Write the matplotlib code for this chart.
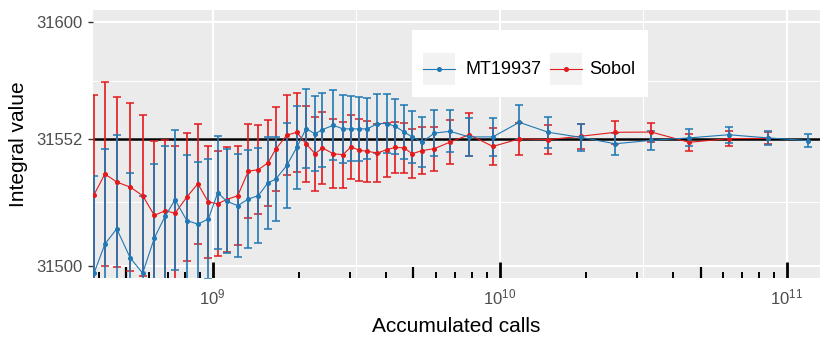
import math
import matplotlib
matplotlib.use("Agg")
import matplotlib.pyplot as plt
from matplotlib.ticker import FixedLocator, NullFormatter, FixedFormatter
from matplotlib.patches import Rectangle
from matplotlib.lines import Line2D

plt.rcParams['font.family'] = ['Liberation Sans', 'DejaVu Sans']
plt.rcParams['mathtext.fontset'] = 'custom'
plt.rcParams['mathtext.rm'] = 'Liberation Sans'
plt.rcParams['mathtext.it'] = 'Liberation Sans:italic'
plt.rcParams['mathtext.bf'] = 'Liberation Sans:bold'

# ---------------- data ----------------
series_names = ['MT19937', 'Sobol']
calls = [3.86e8, 4.21e8, 4.63e8, 5.16e8, 5.70e8, 6.26e8, 6.82e8, 7.39e8, 8.12e8, 8.87e8,
         9.65e8, 1.041e9, 1.119e9, 1.222e9, 1.33e9, 1.441e9, 1.555e9, 1.658e9, 1.81e9, 1.962e9,
         2.113e9, 2.272e9, 2.409e9, 2.631e9, 2.838e9, 3.032e9, 3.241e9, 3.456e9, 3.745e9, 4.04e9,
         4.316e9, 4.64e9, 4.95e9, 5.36e9, 5.92e9, 6.71e9, 7.83e9, 9.45e9, 1.168e10, 1.476e10,
         1.92e10, 2.52e10, 3.37e10, 4.56e10, 6.26e10, 8.58e10, 1.184e11]
mt_mean = [31497.0, 31508.9, 31515.2, 31503.2, 31497.0, 31511.4, 31520.3, 31527.1, 31518.6, 31517.1,
           31519.2, 31530.0, 31526.5, 31524.7, 31527.4, 31528.8, 31534.0, 31535.6, 31541.2, 31548.6,
           31556.3, 31554.2, 31555.9, 31557.7, 31556.2, 31556.2, 31556.2, 31556.2, 31558.4, 31558.4,
           31557.3, 31554.9, 31552.9, 31550.8, 31554.5, 31555.2, 31552.9, 31552.9, 31558.9, 31554.8,
           31552.7, 31550.1, 31551.5, 31552.5, 31553.8, 31552.5, 31551.4]
mt_err = [40.0, 39.0, 38.6, 34.9, 31.8, 30.4, 29.0, 28.8, 26.7, 25.4,
          24.6, 23.2, 21.3, 21.2, 20.0, 19.6, 18.7, 17.3, 17.6, 17.0,
          16.2, 15.4, 15.2, 14.4, 14.0, 13.3, 13.0, 12.5, 12.2, 12.0,
          11.3, 11.0, 10.7, 10.3, 9.5, 8.6, 7.7, 7.7, 7.0, 6.4,
          5.5, 4.6, 3.9, 3.5, 3.2, 2.8, 2.5]
sobol_calls = calls[:-1]
sobol_mean = [31529.2, 31537.7, 31534.4, 31532.3, 31528.8, 31520.7, 31522.6, 31521.6, 31528.2, 31533.7,
              31526.2, 31525.5, 31527.2, 31528.8, 31538.8, 31539.5, 31542.2, 31547.9, 31553.6, 31554.8,
              31550.1, 31546.0, 31548.4, 31546.0, 31545.6, 31548.8, 31547.4, 31547.0, 31546.3, 31547.7,
              31548.6, 31548.4, 31546.0, 31547.3, 31548.1, 31550.8, 31553.8, 31549.0, 31552.1, 31551.8,
              31553.2, 31554.8, 31554.9, 31550.7, 31552.2, 31552.3]
sobol_err = [40.8, 37.7, 35.0, 34.5, 33.0, 30.4, 28.9, 27.7, 26.2, 24.6,
             22.8, 21.6, 21.7, 20.3, 19.3, 18.4, 17.8, 17.2, 16.4, 16.1,
             15.6, 15.1, 14.8, 14.2, 13.6, 13.2, 12.7, 12.5, 12.1, 11.1,
             10.4, 10.4, 10.0, 9.6, 9.0, 8.9, 8.8, 7.7, 6.5, 5.8,
             5.2, 4.7, 3.9, 3.5, 3.0, 2.5]
reference_value = 31552
y_breaks = [31500, 31552, 31600]
y_minor_breaks = [31526, 31576]
x_breaks = [1e9, 1e10, 1e11]
x_labels = [r'$10^{9}$', r'$10^{10}$', r'$10^{11}$']
x_minor_breaks = [10 ** 9.5, 10 ** 10.5]
x_limits = [5e8, 1e11]
y_limits = [31500, 31600]

# ---------------- style ----------------
blue = '#1F78B4'
red = '#E31A1C'
W, H = 830, 346
fig = plt.figure(figsize=(W / 100, H / 100), dpi=100)
L, R, T, B = 93.3, 820.0, 10.0, 278.0
ax = fig.add_axes([L / W, 1 - B / H, (R - L) / W, (B - T) / H])
ax.set_facecolor('#EBEBEB')
for s in ax.spines.values():
    s.set_visible(False)

ax.set_xscale('log')
lx0, lx1 = math.log10(x_limits[0]), math.log10(x_limits[1])
ex = 0.05 * (lx1 - lx0)
ax.set_xlim(10 ** (lx0 - ex), 10 ** (lx1 + ex))
ey = 0.05 * (y_limits[1] - y_limits[0])
ax.set_ylim(y_limits[0] - ey, y_limits[1] + ey)

ax.xaxis.set_major_locator(FixedLocator(x_breaks))
ax.xaxis.set_major_formatter(FixedFormatter(x_labels))
ax.xaxis.set_minor_locator(FixedLocator(x_minor_breaks))
ax.xaxis.set_minor_formatter(NullFormatter())
ax.yaxis.set_major_locator(FixedLocator(y_breaks))
ax.yaxis.set_minor_locator(FixedLocator(y_minor_breaks))
ax.yaxis.set_major_formatter(FixedFormatter([str(v) for v in y_breaks]))

ax.grid(which='major', color='white', lw=1.5, zorder=0)
ax.grid(which='minor', color='white', lw=0.75, zorder=0)
ax.set_axisbelow(True)

ax.tick_params(axis='x', which='both', length=0, pad=7, labelsize=12, labelcolor='#4D4D4D')
ax.tick_params(axis='y', which='major', length=3.6, width=1.0, color='#333333', pad=4,
               labelsize=12, labelcolor='#4D4D4D')
ax.tick_params(axis='y', which='minor', length=0)

# reference line
ax.axhline(reference_value, color='black', lw=1.8, zorder=1)

# log ticks (annotation_logticks style)
xmin, xmax = ax.get_xlim()
axh_px = B - T
for k in range(8, 12):
    for m in range(1, 10):
        v = m * 10 ** k
        if xmin <= v <= xmax:
            if m == 1:
                ln, lw = 16, 2.0
            elif m == 5:
                ln, lw = 11, 1.6
            else:
                ln, lw = 6, 1.4
            ax.vlines(v, 0, ln / axh_px, transform=ax.get_xaxis_transform(),
                      color='black', lw=lw, zorder=1)

# series
def draw(x, y, e, c):
    ax.errorbar(x, y, yerr=e, fmt='o-', color=c, ms=2.6, lw=0.8,
                ecolor=matplotlib.colors.to_rgba(c, 0.92), elinewidth=1.3,
                capsize=2.6, capthick=1.2, zorder=3)

draw(sobol_calls, sobol_mean, sobol_err, red)
draw(calls, mt_mean, mt_err, blue)

# axis titles
fig.text((L + R) / 2 / W, 1 - 332 / H, 'Accumulated calls', ha='center', va='baseline',
         fontsize=15, color='black')
fig.text(19 / W, 1 - ((T + B) / 2) / H, 'Integral value', ha='center', va='center',
         rotation=90, fontsize=15, color='black')

# legend (ggplot-like, inside)
def fx(px):
    return px / W
def fy(py):
    return 1 - py / H

fig.patches.append(Rectangle((fx(412), fy(97)), (648 - 412) / W, (97 - 30) / H,
                             transform=fig.transFigure, facecolor='white', edgecolor='none',
                             zorder=5))
keys = [(423, 455, 465, blue), (550, 582, 589, red)]
for (k0, k1, tx, c), name in zip(keys, series_names):
    fig.patches.append(Rectangle((fx(k0), fy(85)), (k1 - k0) / W, 32 / H,
                                 transform=fig.transFigure, facecolor='#F2F2F2',
                                 edgecolor='none', zorder=6))
    fig.lines.append(Line2D([fx(k0), fx(k1)], [fy(69), fy(69)], transform=fig.transFigure,
                            color=c, lw=0.8, zorder=7))
    fig.lines.append(Line2D([fx((k0 + k1) / 2)], [fy(69)], transform=fig.transFigure,
                            color=c, marker='o', ms=2.6, lw=0, zorder=8))
    fig.text(fx(tx), fy(69), name, ha='left', va='center', fontsize=13, color='black', zorder=8)

fig.savefig('out.png', dpi=100, facecolor='white')
